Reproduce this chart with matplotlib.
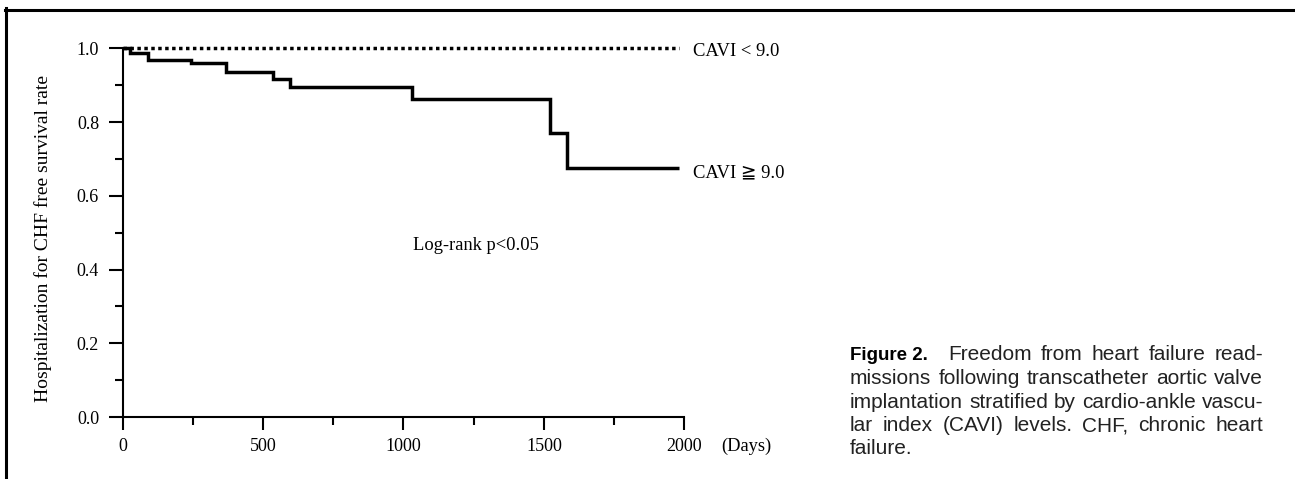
import numpy as np
import matplotlib
matplotlib.use('Agg')
import matplotlib.pyplot as plt
from matplotlib.lines import Line2D
from matplotlib.ticker import MultipleLocator

# Kaplan-Meier steps
days_high = [0, 26, 90, 245, 368, 536, 596, 1031, 1522, 1581, 1982]
surv_high = [1.0, 0.986, 0.969, 0.959, 0.937, 0.918, 0.896, 0.862, 0.769, 0.674, 0.674]
days_low = [0, 1980]
surv_low = [1.0, 1.0]

label_low = 'CAVI < 9.0'
label_high = 'CAVI \u2267 9.0'
ylab = 'Hospitalization for CHF free survival rate'
caption_head = 'Figure 2.'
caption_lines = ['Freedom from heart failure read-',
                 'missions following transcatheter aortic valve',
                 'implantation stratified by cardio-ankle vascu-',
                 'lar index (CAVI) levels. CHF, chronic heart',
                 'failure.']

W, H = 1295, 479
serif = ['Liberation Serif', 'DejaVu Serif', 'DejaVu Sans']
sans = ['Liberation Sans', 'DejaVu Sans']

fig = plt.figure(figsize=(W / 100, H / 100), dpi=100)

def fx(px):
    return px / W

def fy(py):
    return 1 - py / H

ax = fig.add_axes([fx(122.7), fy(417), fx(684.3) - fx(122.7), fy(48.3) - fy(417)])
ax.plot(days_low, surv_low, color='black', lw=2.5, linestyle=(0, (1, 1)),
        dash_capstyle='butt', clip_on=False)
ax.plot(days_high, surv_high, color='black', lw=2.5, drawstyle='steps-post',
        solid_capstyle='butt', solid_joinstyle='miter', clip_on=False)

ax.set_xlim(0, 2000)
ax.set_ylim(0, 1.0)
for s in ['top', 'right']:
    ax.spines[s].set_visible(False)
for s in ['left', 'bottom']:
    ax.spines[s].set_linewidth(1.5)

ax.xaxis.set_major_locator(MultipleLocator(500))
ax.xaxis.set_minor_locator(MultipleLocator(250))
ax.yaxis.set_major_locator(MultipleLocator(0.2))
ax.yaxis.set_minor_locator(MultipleLocator(0.1))
ax.set_yticklabels([f'{v:.1f}' for v in ax.get_yticks()])
ax.tick_params(axis='y', which='major', direction='out', length=10, width=1.5, pad=7)
ax.tick_params(axis='y', which='minor', direction='out', length=6, width=1.5)
ax.tick_params(axis='x', which='major', direction='out', length=9, width=1.5, pad=6)
ax.tick_params(axis='x', which='minor', direction='out', length=5.5, width=1.5)
for t in ax.get_xticklabels() + ax.get_yticklabels():
    t.set_family(serif)
    t.set_fontsize(13)

fig.text(fx(692.7), fy(51.7), label_low, family=serif, fontsize=13.4, va='center', ha='left')
fig.text(fx(692.7), fy(173), label_high, family=serif, fontsize=13.4, va='center', ha='left')
fig.text(fx(412.7), fy(245), 'Log-rank p<0.05', family=serif, fontsize=13.3, va='center', ha='left')
fig.text(fx(721.7), fy(446.7), '(Days)', family=serif, fontsize=13.3, va='center', ha='left')
fig.text(fx(43), fy(238), ylab, family=serif, fontsize=14, rotation=90, va='center', ha='center')

# frame lines
fig.add_artist(Line2D([fx(6), fx(6)], [fy(8), 0], color='black', lw=2.2))
fig.add_artist(Line2D([fx(5), 1], [fy(9.5), fy(9.5)], color='black', lw=2.2))

# caption, justified
cap_x0, cap_x1 = 850, 1263
cap_size = 15
line_y = [355, 378.5, 402, 425.5, 449]
fig.text(fx(cap_x0), fy(line_y[0]), caption_head, family=sans,
         weight='bold', fontsize=13.5, va='center', ha='left')
renderer = fig.canvas.get_renderer()
for i, line in enumerate(caption_lines):
    start = 948 if i == 0 else cap_x0
    words = line.split(' ')
    if i == len(caption_lines) - 1:
        fig.text(fx(start), fy(line_y[i]), line, family=sans, fontsize=cap_size, color='#222222',
                 va='center', ha='left')
        continue
    texts = [fig.text(0, fy(line_y[i]), w, family=sans, fontsize=cap_size, color='#222222',
                      va='center', ha='left') for w in words]
    widths = [t.get_window_extent(renderer).width for t in texts]
    gap = (cap_x1 - start - sum(widths)) / (len(words) - 1)
    x = start
    for t, wd in zip(texts, widths):
        t.set_x(fx(x))
        x += wd + gap

fig.savefig('out.png', dpi=100)
